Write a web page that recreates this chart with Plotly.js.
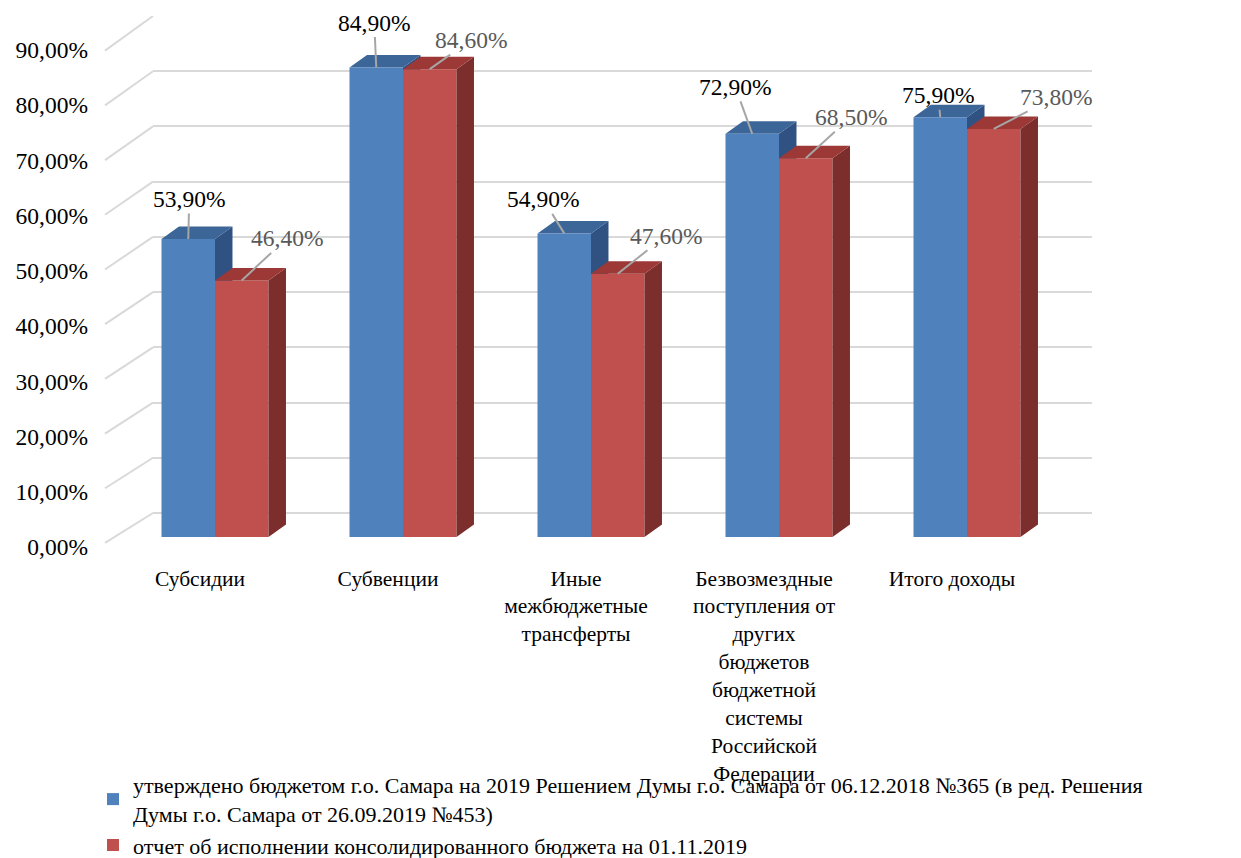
<!DOCTYPE html>
<html>
<head>
<meta charset="utf-8">
<script src="https://cdn.plot.ly/plotly-3.0.1.min.js"></script>
<style>
html,body{margin:0;padding:0;background:#fff;}
#chart{width:1241px;height:858px;}
#chart svg text{font-family:'Liberation Serif' !important;}
</style>
</head>
<body>
<div id="chart"></div>
<script>
// ---- data ----
const categories = [
  'Субсидии',
  'Субвенции',
  'Иные<br>межбюджетные<br>трансферты',
  'Безвозмездные<br>поступления от<br>других<br>бюджетов<br>бюджетной<br>системы<br>Российской<br>Федерации',
  'Итого доходы'
];
const approved = [53.9, 84.9, 54.9, 72.9, 75.9];
const actual = [46.4, 84.6, 47.6, 68.5, 73.8];
const seriesNames = [
  'утверждено бюджетом г.о. Самара на 2019 Решением Думы г.о. Самара от 06.12.2018 №365 (в ред. Решения<br>Думы г.о. Самара от 26.09.2019 №453)',
  'отчет об исполнении консолидированного бюджета на 01.11.2019'
];
const yTickVals = [0, 10, 20, 30, 40, 50, 60, 70, 80, 90];
const yTickText = ['0,00%', '10,00%', '20,00%', '30,00%', '40,00%', '50,00%', '60,00%', '70,00%', '80,00%', '90,00%'];

// ---- layout helpers (pixels -> paper) ----
const W = 1241, H = 858;
const px = v => v / W;
const py = v => 1 - v / H;
const FONT = 'Liberation Serif';

const colors = {
  blue: {front: '#4f81bd', top: '#3c6598', side: '#2f5283'},
  red: {front: '#c0504d', top: '#9c3835', side: '#7b2e2c'}
};
const bargap = 0.431;
const barW = (1 - bargap) / 2;
const depthX = 0.093;   // category units
const depthY = 2.26;    // percent units

// label offsets in pixels (text center relative to bar top centre)
const offApproved = [[1, -40], [-2, -45], [-21, -34], [-17, -47], [-2, -22]];
const offActual = [[45, -42], [41, -29], [48, -38], [45, -41], [62, -32]];

const xIdx = categories.map((c, i) => i);
const fmt = v => v.toFixed(2).replace('.', ',') + '%';

const traces = [
  {x: [0], y: [0], xaxis: 'x', yaxis: 'y', type: 'scatter', mode: 'markers',
   marker: {opacity: 0}, showlegend: false, hoverinfo: 'skip'},
  {x: xIdx, y: approved, name: seriesNames[0], type: 'bar', xaxis: 'x2', yaxis: 'y2',
   marker: {color: colors.blue.front}, hoverinfo: 'y'},
  {x: xIdx, y: actual, name: seriesNames[1], type: 'bar', xaxis: 'x2', yaxis: 'y2',
   marker: {color: colors.red.front}, hoverinfo: 'y'}
];

const shapes = [];
// diagonal left-wall grid lines
yTickVals.forEach(v => {
  shapes.push({type: 'line', xref: 'paper', yref: 'y', x0: px(105), x1: px(153),
    y0: 0.9906 * v - 5.43, y1: v, line: {color: '#d9d9d9', width: 2}, layer: 'below'});
});
function barFaces(vals, s, col) {
  vals.forEach((v, i) => {
    const xl = i + (s - 0.5) * barW - barW / 2;
    const xr = xl + barW;
    const side = `M${xr},0 L${xr + depthX},${depthY} L${xr + depthX},${v + depthY} L${xr},${v} Z`;
    const top = `M${xl},${v} L${xl + depthX},${v + depthY} L${xr + depthX},${v + depthY} L${xr},${v} Z`;
    const layer = s === 0 ? 'between' : 'above';
    shapes.push({type: 'path', xref: 'x2', yref: 'y2', path: side, fillcolor: col.side, line: {width: 0}, layer: layer});
    shapes.push({type: 'path', xref: 'x2', yref: 'y2', path: top, fillcolor: col.top, line: {width: 0}, layer: layer});
  });
}
barFaces(approved, 0, colors.blue);
barFaces(actual, 1, colors.red);

const annotations = [];
function labels(vals, s, offs, color) {
  vals.forEach((v, i) => {
    const xc = i + (s - 0.5) * barW;
    annotations.push({xref: 'x2', yref: 'y2', x: xc, y: v, text: fmt(v),
      showarrow: true, arrowhead: 0, arrowwidth: 2, arrowcolor: '#a6a6a6', standoff: 0,
      ax: offs[i][0], ay: offs[i][1], font: {family: FONT, size: 23.5, color: color}});
  });
}
labels(approved, 0, offApproved, '#000000');
labels(actual, 1, offActual, '#595959');

const layout = {
  width: W, height: H,
  margin: {l: 0, r: 0, t: 0, b: 0, autoexpand: false},
  paper_bgcolor: '#ffffff', plot_bgcolor: 'rgba(0,0,0,0)',
  font: {family: FONT, size: 22, color: '#000'},
  barmode: 'group', bargap: bargap, bargroupgap: 0,
  showlegend: true,
  legend: {x: px(93), y: py(764), xanchor: 'left', yanchor: 'top', bgcolor: 'rgba(0,0,0,0)',
    font: {family: FONT, size: 22, color: '#000'}, tracegroupgap: 0},
  xaxis: {domain: [px(153), px(1092)], range: [0, 1], anchor: 'y', visible: false, fixedrange: true},
  yaxis: {domain: [py(568.2), py(16)], range: [-10, 90], anchor: 'x', tickvals: yTickVals, ticktext: yTickText,
    showgrid: true, gridcolor: '#d9d9d9', gridwidth: 2, zeroline: false, showline: false, ticks: '',
    ticklabelshift: 34, ticklabelstandoff: 64, tickfont: {family: FONT, size: 23.5, color: '#000'}, fixedrange: true},
  xaxis2: {domain: [px(121), px(1061)], range: [-0.5, 4.5], anchor: 'y2', type: 'linear',
    tickvals: xIdx, ticktext: categories, showgrid: false, zeroline: false, showline: false, ticks: '',
    ticklabelshift: -15, ticklabelstandoff: 26, tickfont: {family: FONT, size: 21.5, color: '#000'}, fixedrange: true},
  yaxis2: {domain: [py(537), py(39.3)], range: [0, 90], anchor: 'x2', showgrid: false, zeroline: false,
    showline: false, showticklabels: false, ticks: '', fixedrange: true},
  shapes: shapes,
  annotations: annotations
};

Plotly.newPlot('chart', traces, layout, {displayModeBar: false});
</script>
</body>
</html>
